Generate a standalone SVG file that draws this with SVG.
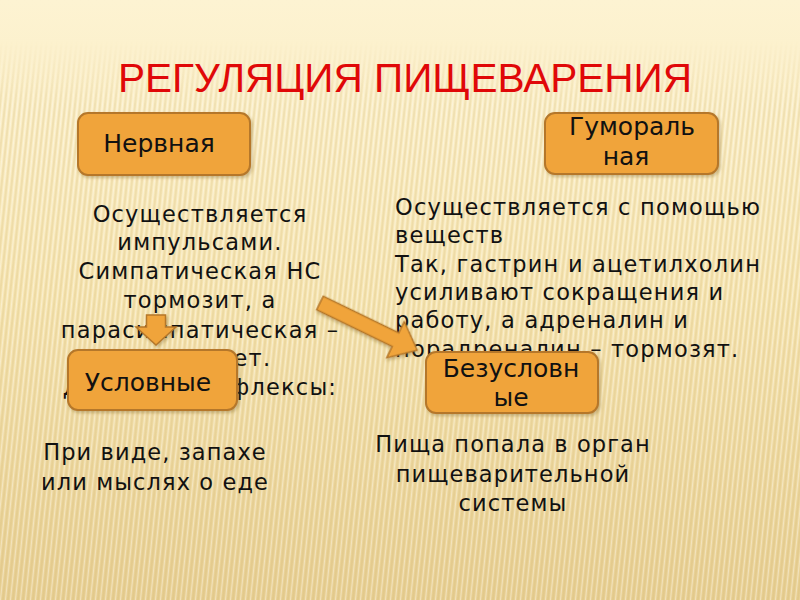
<svg xmlns="http://www.w3.org/2000/svg" width="800" height="600" viewBox="0 0 800 600">
  <defs>
    <linearGradient id="bg" x1="0" y1="0" x2="0" y2="1">
      <stop offset="0" stop-color="#fdf3d2"/>
      <stop offset="0.5" stop-color="#f7e6b4"/>
      <stop offset="1" stop-color="#e9d196"/>
    </linearGradient>
    <linearGradient id="fade" x1="0" y1="0" x2="0" y2="1">
      <stop offset="0" stop-color="#fff" stop-opacity="0"/>
      <stop offset="0.12" stop-color="#fff" stop-opacity="1"/>
      <stop offset="1" stop-color="#fff" stop-opacity="1"/>
    </linearGradient>
    <pattern id="stripes" width="5" height="600" patternUnits="userSpaceOnUse" patternTransform="skewX(-6)">
      <rect x="0" y="0" width="2" height="600" fill="#c8a860" opacity="0.2"/>
      <rect x="3" y="0" width="1" height="600" fill="#ffffff" opacity="0.35"/>
    </pattern>
    <mask id="m">
      <rect x="0" y="40" width="800" height="560" fill="url(#fade)"/>
    </mask>
    <filter id="sh" x="-10%" y="-10%" width="130%" height="130%">
      <feDropShadow dx="1.5" dy="2" stdDeviation="1.5" flood-color="#7a5a20" flood-opacity="0.35"/>
    </filter>
  </defs>
  <style>
    .box { fill: #f0a43a; stroke: #b5772a; stroke-width: 2; filter: url(#sh); }
    .arrow { fill: #f0a43a; stroke: #b5772a; stroke-width: 1.5; filter: url(#sh); }
    .lbl { font-family: "DejaVu Sans", "Noto Sans", sans-serif; font-size: 25px; fill: #111; text-anchor: middle; }
    .body { font-family: "DejaVu Sans", "Noto Sans", sans-serif; font-size: 22.5px; fill: #111; letter-spacing: 1.2px; }
    .small { font-family: "DejaVu Sans", "Noto Sans", sans-serif; font-size: 22.5px; fill: #111; text-anchor: middle; letter-spacing: 1.1px; }
    .title { font-family: "Liberation Sans", "DejaVu Sans", sans-serif; font-size: 41px; fill: #e00808; text-anchor: middle; }
  </style>

  <rect width="800" height="600" fill="url(#bg)"/>
  <rect width="800" height="600" fill="url(#stripes)" mask="url(#m)"/>

  <text class="title" x="405" y="92" textLength="574" lengthAdjust="spacingAndGlyphs">РЕГУЛЯЦИЯ ПИЩЕВАРЕНИЯ</text>

  <g id="text-nervous" class="body" text-anchor="middle">
    <text x="200" y="222">Осуществляется</text>
    <text x="200" y="250">импульсами.</text>
    <text x="200" y="279">Симпатическая НС</text>
    <text x="200" y="308">тормозит, а</text>
    <text x="200" y="338">парасимпатическая –</text>
    <text x="200" y="366">усиливает.</text>
    <text x="200" y="395">Для этого рефлексы:</text>
  </g>

  <g id="text-humoral" class="body">
    <text x="395" y="215">Осуществляется с помощью</text>
    <text x="395" y="243">веществ</text>
    <text x="395" y="272">Так, гастрин и ацетилхолин</text>
    <text x="395" y="300">усиливают сокращения и</text>
    <text x="395" y="328">работу, а адреналин и</text>
    <text x="395" y="357">норадреналин – тормозят.</text>
  </g>

  <g id="connectors">
    <polygon class="arrow" points="146.5,315 165.5,315 165.5,327 176,327 156,345 136,327 146.5,327"/>
    <polygon class="arrow" transform="translate(320,303) rotate(25.9)" points="0,-7.5 84,-7.5 84,-20 108,0 84,20 84,7.5 0,7.5"/>
  </g>

  <g id="node-nervous">
    <rect class="box" x="78" y="113" width="172" height="62" rx="10"/>
    <text class="lbl" x="159" y="152">Нервная</text>
  </g>

  <g id="node-humoral">
    <rect class="box" x="545" y="113" width="173" height="61" rx="10"/>
    <text class="lbl" x="632" y="135">Гумораль</text>
    <text class="lbl" x="626" y="165">ная</text>
  </g>

  <g id="node-conditioned">
    <rect class="box" x="68" y="350" width="169" height="60" rx="10"/>
    <text class="lbl" x="148" y="391">Условные</text>
  </g>

  <g id="node-unconditioned">
    <rect class="box" x="426" y="352" width="172" height="61" rx="10"/>
    <text class="lbl" x="511" y="377">Безусловн</text>
    <text class="lbl" x="511" y="406">ые</text>
  </g>

  <g id="text-conditioned" class="small">
    <text x="155" y="460">При виде, запахе</text>
    <text x="155" y="490">или мыслях о еде</text>
  </g>

  <g id="text-unconditioned" class="small">
    <text x="513" y="452">Пища попала в орган</text>
    <text x="513" y="482">пищеварительной</text>
    <text x="513" y="511">системы</text>
  </g>
</svg>
